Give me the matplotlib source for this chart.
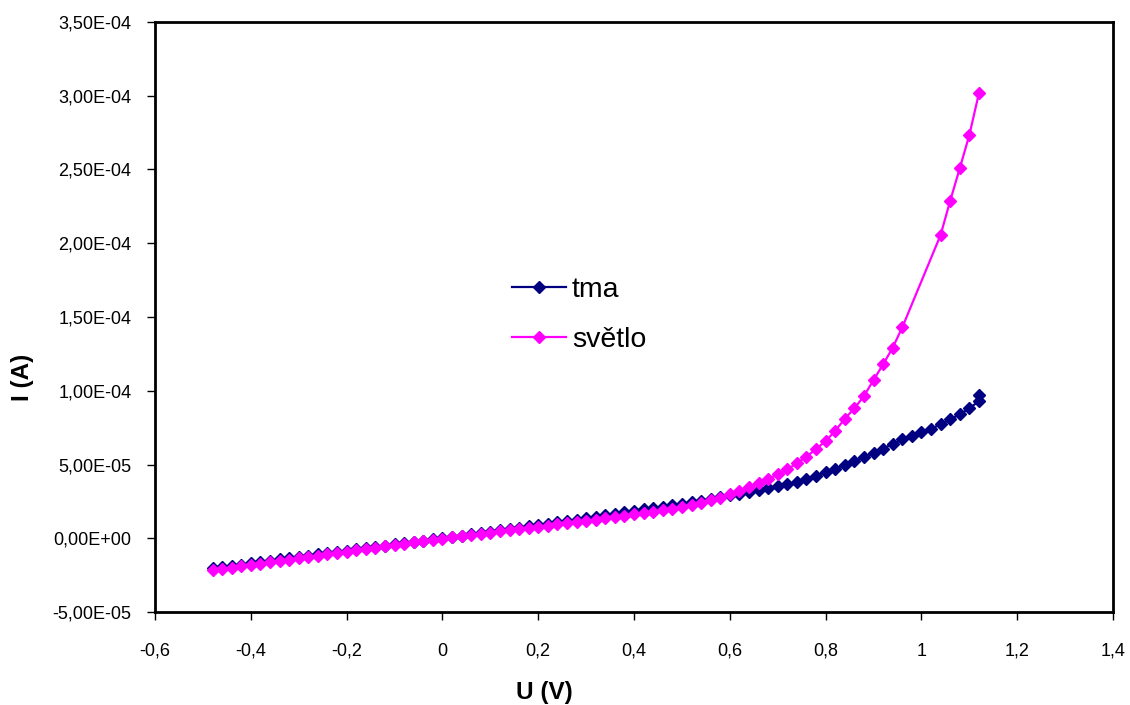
import matplotlib
matplotlib.use("Agg")
import matplotlib.pyplot as plt
from matplotlib.ticker import FuncFormatter, MultipleLocator

plt.rcParams['font.family'] = ['Liberation Sans', 'DejaVu Sans']

U_tma = [-0.48, -0.46, -0.44, -0.42, -0.40, -0.38, -0.36, -0.34, -0.32, -0.30,
         -0.28, -0.26, -0.24, -0.22, -0.20, -0.18, -0.16, -0.14, -0.12, -0.10,
         -0.08, -0.06, -0.04, -0.02, 0.00, 0.02, 0.04, 0.06, 0.08, 0.10,
         0.12, 0.14, 0.16, 0.18, 0.20, 0.22, 0.24, 0.26, 0.28, 0.30,
         0.32, 0.34, 0.36, 0.38, 0.40, 0.42, 0.44, 0.46, 0.48, 0.50,
         0.52, 0.54, 0.56, 0.58, 0.60, 0.62, 0.64, 0.66, 0.68, 0.70,
         0.72, 0.74, 0.76, 0.78, 0.80, 0.82, 0.84, 0.86, 0.88, 0.90,
         0.92, 0.94, 0.96, 0.98, 1.00, 1.02, 1.04, 1.06, 1.08, 1.10,
         1.12, 1.12]
I_tma_uA = [-20.5, -19.6, -18.8, -17.9, -17.0, -16.1, -15.3, -14.4, -13.6, -12.7,
            -11.9, -11.0, -10.2, -9.3, -8.5, -7.6, -6.8, -5.9, -5.1, -4.2,
            -3.4, -2.5, -1.7, -0.8, 0.0, 0.9, 1.8, 2.7, 3.6, 4.5,
            5.4, 6.3, 7.2, 8.1, 9.0, 9.9, 10.8, 11.7, 12.7, 13.6,
            14.5, 15.5, 16.5, 17.6, 18.7, 19.6, 20.4, 21.3, 22.3, 23.3,
            24.3, 25.4, 26.6, 27.8, 29.0, 30.2, 31.3, 32.5, 33.8, 35.1,
            36.6, 38.3, 40.3, 42.5, 44.8, 47.2, 49.7, 52.3, 55.0, 57.8,
            60.8, 63.9, 67.0, 69.5, 71.8, 74.2, 77.2, 80.6, 84.0, 88.0,
            93.0, 97.0]

U_svetlo = [-0.48, -0.46, -0.44, -0.42, -0.40, -0.38, -0.36, -0.34, -0.32, -0.30,
            -0.28, -0.26, -0.24, -0.22, -0.20, -0.18, -0.16, -0.14, -0.12, -0.10,
            -0.08, -0.06, -0.04, -0.02, 0.00, 0.02, 0.04, 0.06, 0.08, 0.10,
            0.12, 0.14, 0.16, 0.18, 0.20, 0.22, 0.24, 0.26, 0.28, 0.30,
            0.32, 0.34, 0.36, 0.38, 0.40, 0.42, 0.44, 0.46, 0.48, 0.50,
            0.52, 0.54, 0.56, 0.58, 0.60, 0.62, 0.64, 0.66, 0.68, 0.70,
            0.72, 0.74, 0.76, 0.78, 0.80, 0.82, 0.84, 0.86, 0.88, 0.90,
            0.92, 0.94, 0.96, 1.04, 1.06, 1.08, 1.10, 1.12]
I_svetlo_uA = [-21.7, -20.8, -19.9, -19.0, -18.1, -17.2, -16.3, -15.4, -14.5, -13.6,
               -12.7, -11.8, -10.9, -10.0, -9.1, -8.2, -7.3, -6.4, -5.5, -4.6,
               -3.7, -2.8, -1.9, -1.0, -0.2, 0.6, 1.4, 2.2, 3.0, 3.8,
               4.6, 5.4, 6.2, 7.0, 7.8, 8.6, 9.4, 10.2, 11.0, 11.8,
               12.6, 13.5, 14.4, 15.3, 16.2, 17.1, 18.0, 19.0, 20.1, 21.3,
               22.6, 24.0, 25.6, 27.6, 29.8, 32.0, 34.5, 37.2, 40.0, 43.3,
               46.7, 50.8, 55.3, 60.5, 65.9, 72.8, 81.0, 88.1, 96.4, 107.3,
               117.9, 129.2, 143.0, 205.6, 228.8, 250.8, 273.4, 301.7]

series_names = ["tma", "světlo"]
series_colors = ["#000080", "#FF00FF"]

fig = plt.figure(figsize=(11.3, 7.05), dpi=100)
ax = fig.add_axes([0.1372, 0.1319, 0.8478, 0.8369])

ax.plot(U_tma, [v * 1e-6 for v in I_tma_uA], color=series_colors[0], lw=1.6,
        marker='D', markersize=6.5, label=series_names[0], zorder=3)
ax.plot(U_svetlo, [v * 1e-6 for v in I_svetlo_uA], color=series_colors[1], lw=1.6,
        marker='D', markersize=6.5, label=series_names[1], zorder=4)

ax.set_xlim(-0.6, 1.4)
ax.set_ylim(-5e-5, 3.5e-4)
ax.xaxis.set_major_locator(MultipleLocator(0.2))
ax.yaxis.set_major_locator(MultipleLocator(5e-5))


def xfmt(v, pos):
    v = round(v, 1)
    if abs(v) < 1e-9:
        v = 0.0
    return f"{v:g}".replace('.', ',')


def yfmt(v, pos):
    if abs(v) < 1e-12:
        v = 0.0
    return f"{v:.2E}".replace('.', ',')


ax.xaxis.set_major_formatter(FuncFormatter(xfmt))
ax.yaxis.set_major_formatter(FuncFormatter(yfmt))
ax.tick_params(axis='both', labelsize=13, direction='out', length=6, width=1)
ax.tick_params(axis='y', pad=11)
ax.tick_params(axis='x', pad=16)

for s in ax.spines.values():
    s.set_linewidth(2)
    s.set_color('black')

ax.set_xlabel("U (V)", fontsize=17.5, fontweight='bold')
ax.set_ylabel("I (A)", fontsize=17.5, fontweight='bold')
ax.xaxis.label.set_va('center')
ax.yaxis.label.set_va('center')
ax.xaxis.set_label_coords(0.4066, -0.1356)
ax.yaxis.set_label_coords(-0.1388, 0.397)

leg = ax.legend(loc='center left', bbox_to_anchor=(0.3723, 0.5034), frameon=False,
                fontsize=20.5, handlelength=1.9, handletextpad=0.22, labelspacing=0.85,
                borderaxespad=0, borderpad=0)

fig.savefig("out.png", dpi=100)
